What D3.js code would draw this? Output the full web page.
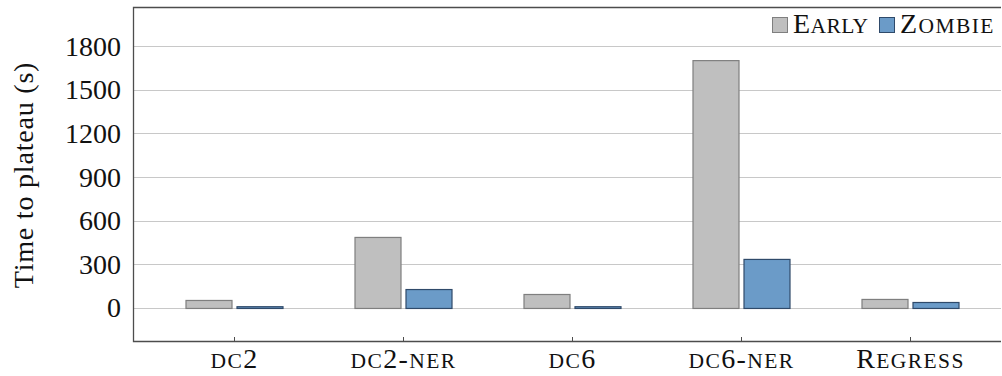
<!DOCTYPE html>
<html>
<head>
<meta charset="utf-8">
<script src="https://cdn.jsdelivr.net/npm/d3@7"></script>
<style>
  body { margin: 0; background: #fff; }
  #chart { width: 1002px; height: 376px; }
  text { font-family: "Liberation Serif", "DejaVu Serif", serif; fill: #111; }
</style>
</head>
<body>
<div id="chart"></div>
<script>
const width = 1002;
const height = 376;

// data
const categories = ["dc2", "dc2-ner", "dc6", "dc6-ner", "Regress"];
const seriesNames = ["Early", "Zombie"];
const earlyValues = [55, 488, 96, 1703, 62];
const zombieValues = [12, 130, 12, 337, 41];
const yTicks = [0, 300, 600, 900, 1200, 1500, 1800];

const colors = { Early: "#bfbfbf", Zombie: "#6b9bc8" };
const strokes = { Early: "#7f7f7f", Zombie: "#2f4a6a" };

const plotLeft = 133, plotRight = 1001, plotTop = 7, plotBottom = 341;

const svg = d3
  .select("#chart")
  .append("svg")
  .attr("width", width)
  .attr("height", height)
  .attr("viewBox", [0, 0, width, height]);

const y = d3.scaleLinear().domain([-227, 2068]).range([plotBottom, plotTop]);

// category centres
const x = d3
  .scalePoint()
  .domain(categories)
  .range([234.5, 910.5]);

const barWidth = 46;
const offsets = { Early: -49, Zombie: 2 };

// fake small caps: lowercase letters become smaller capitals
function smallCaps(textSel, str) {
  const runs = str.match(/[a-z]+|[^a-z]+/g);
  runs.forEach((r) => {
    const lower = /[a-z]/.test(r);
    textSel
      .append("tspan")
      .attr("font-size", lower ? 21.5 : 28)
      .text(lower ? r.toUpperCase() : r);
  });
}

// grid lines
svg
  .append("g")
  .selectAll("line")
  .data(yTicks)
  .enter()
  .append("line")
  .attr("x1", plotLeft)
  .attr("x2", plotRight)
  .attr("y1", (d) => Math.round(y(d)) + 0.5)
  .attr("y2", (d) => Math.round(y(d)) + 0.5)
  .attr("stroke", "#c8c8c8")
  .attr("stroke-width", 1);

// bars
const series = [
  { name: "Early", values: earlyValues },
  { name: "Zombie", values: zombieValues },
];

series.forEach((s) => {
  svg
    .append("g")
    .selectAll("rect")
    .data(s.values)
    .enter()
    .append("rect")
    .attr("x", (d, i) => x(categories[i]) + offsets[s.name] + 0.5)
    .attr("y", (d) => y(d) + 0.5)
    .attr("width", barWidth)
    .attr("height", (d) => y(0) - y(d))
    .attr("fill", colors[s.name])
    .attr("stroke", strokes[s.name])
    .attr("stroke-width", 1.2);
});

// frame (left, top, bottom)
svg
  .append("path")
  .attr("d", `M${plotRight},${plotTop + 0.5}H${plotLeft + 0.5}V${plotBottom + 0.5}H${plotRight}`)
  .attr("fill", "none")
  .attr("stroke", "#4d4d4d")
  .attr("stroke-width", 1.3);

// x ticks
svg
  .append("g")
  .selectAll("line")
  .data(categories)
  .enter()
  .append("line")
  .attr("x1", (d) => x(d))
  .attr("x2", (d) => x(d))
  .attr("y1", plotBottom)
  .attr("y2", plotBottom - 4)
  .attr("stroke", "#4d4d4d");

// y tick labels
svg
  .append("g")
  .selectAll("text")
  .data(yTicks)
  .enter()
  .append("text")
  .attr("x", 121)
  .attr("y", (d) => y(d))
  .attr("dy", "0.34em")
  .attr("text-anchor", "end")
  .attr("font-size", 28)
  .text((d) => d);

// x labels
svg
  .append("g")
  .selectAll("text")
  .data(categories)
  .enter()
  .append("text")
  .attr("x", (d) => x(d))
  .attr("y", 368)
  .attr("text-anchor", "middle")
  .attr("font-size", 28)
  .attr("letter-spacing", 1.4)
  .each(function (d) {
    smallCaps(d3.select(this), d);
  });

// y axis title
svg
  .append("text")
  .attr("transform", `translate(33,${(55 + 295) / 2}) rotate(-90)`)
  .attr("text-anchor", "middle")
  .attr("font-size", 28)
  .attr("letter-spacing", 0.8)
  .text("Time to plateau (s)");

// legend
const legend = svg.append("g").attr("class", "legend");
const legendX = { Early: 772, Zombie: 879 };
seriesNames.forEach((name) => {
  legend
    .append("rect")
    .attr("x", legendX[name] + 0.5)
    .attr("y", 17.5)
    .attr("width", 15)
    .attr("height", 15)
    .attr("fill", colors[name])
    .attr("stroke", strokes[name])
    .attr("stroke-width", 1);
  const t = legend
    .append("text")
    .attr("x", legendX[name] + 21)
    .attr("y", 33)
    .attr("font-size", 28)
    .attr("letter-spacing", name === "Zombie" ? 1.4 : 0.4);
  smallCaps(t, name);
});
</script>
</body>
</html>
